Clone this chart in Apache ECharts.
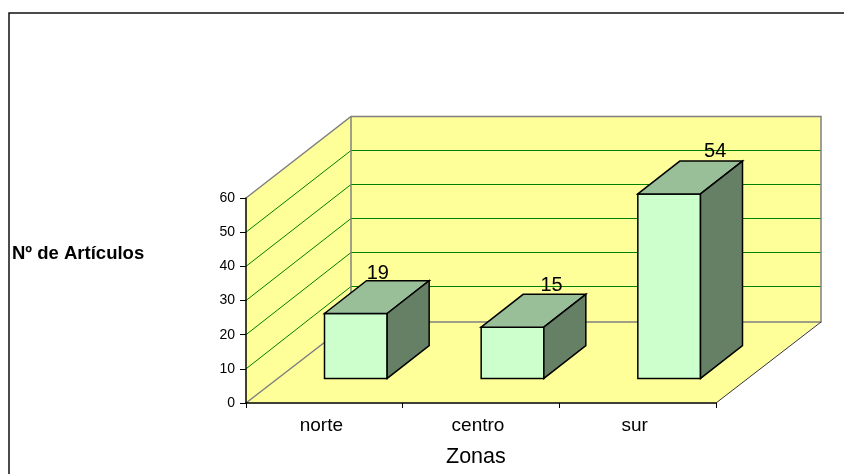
<!DOCTYPE html>
<html>
<head>
<meta charset="utf-8">
<style>
html, body { margin: 0; padding: 0; background: #fff; }
#chart { width: 844px; height: 474px; }
</style>
<script src="https://cdn.jsdelivr.net/npm/echarts@6/dist/echarts.min.js"></script>
</head>
<body>
<div id="chart"></div>
<script>
//datos del grafico
var zonas = ['norte', 'centro', 'sur'];
var articulos = [19, 15, 54];
var yTicks = [0, 10, 20, 30, 40, 50, 60];

//profundidad de la caja 3D en pixeles
var depthX = 105;
var depthY = -82;
//la barra ocupa de 0.3 a 0.7 del fondo y 0.4 del ancho de la categoria
var barFront = 0.3;
var barBack = 0.7;
var barWidth = 0.4;
//ajuste manual de las etiquetas, cada una va en un sitio distinto
var labelShift = [[-20, 3], [-3, 1], [4, 0]];

var font = '"Liberation Sans", Arial, sans-serif';

var chart = echarts.init(document.getElementById('chart'), null, { renderer: 'canvas' });

//linea nitida sobre el pixel
var crisp = function(v) {
	return Math.floor(v) + 0.5;
};

var renderWalls = function(params, api) {
	var cs = params.coordSys;
	var x0 = cs.x, x1 = cs.x + cs.width, yb = cs.y + cs.height, yt = cs.y;
	var bx = depthX, by = depthY;
	var grey = { stroke: '#808080', lineWidth: 1.5, fill: null };
	var children = [
		// pared izquierda, fondo y suelo
		{ type: 'polygon', shape: { points: [[x0, yb], [x0, yt], [x0 + bx, yt + by], [x0 + bx, yb + by]] }, style: { fill: '#FFFF99' } },
		{ type: 'polygon', shape: { points: [[x0 + bx, yt + by], [x1 + bx, yt + by], [x1 + bx, yb + by], [x0 + bx, yb + by]] }, style: { fill: '#FFFF99' } },
		{ type: 'polygon', shape: { points: [[x0, yb], [x0 + bx, yb + by], [x1 + bx, yb + by], [x1, yb]] }, style: { fill: '#FFFF99' } }
	];
	yTicks.forEach(function(t) {
		if(t == 0 || t == yTicks[yTicks.length - 1]) return;
		var y = api.coord([0, t])[1];
		var yBack = crisp(y + by);
		children.push({ type: 'polyline', shape: { points: [[x0, y], [x0 + bx, yBack], [x1 + bx, yBack]] }, style: { stroke: '#008000', lineWidth: 1, fill: null } });
	});
	var topBack = crisp(yt + by);
	var floorBack = crisp(yb + by) + 0.5;
	children.push({ type: 'polyline', shape: { points: [[x0, yt], [x0 + bx, topBack], [x1 + bx, topBack], [x1 + bx, floorBack], [x0 + bx, floorBack], [x0, yb]] }, style: grey });
	children.push({ type: 'line', shape: { x1: x0 + bx, y1: topBack, x2: x0 + bx, y2: floorBack }, style: grey });
	children.push({ type: 'line', shape: { x1: x1 + bx, y1: floorBack, x2: x1, y2: yb }, style: { stroke: '#333333', lineWidth: 1 } });
	return { type: 'group', children: children };
};

var renderBar = function(params, api) {
	var i = api.value(0);
	var v = api.value(1);
	var top = api.coord([i, v]);
	var base = api.coord([i, 0]);
	var w = api.size([1, 0])[0] * barWidth;
	var fx = top[0] - w / 2 + depthX * barFront;
	var fyOff = depthY * barFront;
	var dx = depthX * (barBack - barFront);
	var dy = depthY * (barBack - barFront);
	var t = top[1] + fyOff;
	var b = base[1] + fyOff;
	var line = { stroke: '#000', lineWidth: 1.5, lineJoin: 'miter' };
	var shift = labelShift[i];
	return {
		type: 'group',
		children: [
			{ type: 'polygon', shape: { points: [[fx, t], [fx + w, t], [fx + w, b], [fx, b]] }, style: Object.assign({ fill: '#CCFFCC' }, line) },
			{ type: 'polygon', shape: { points: [[fx, t], [fx + dx, t + dy], [fx + w + dx, t + dy], [fx + w, t]] }, style: Object.assign({ fill: '#99BF99' }, line) },
			{ type: 'polygon', shape: { points: [[fx + w, t], [fx + w + dx, t + dy], [fx + w + dx, b + dy], [fx + w, b]] }, style: Object.assign({ fill: '#668066' }, line) },
			{ type: 'text', style: {
				text: String(v),
				x: fx + w / 2 + dx + shift[0],
				y: t + dy + shift[1],
				align: 'center',
				verticalAlign: 'bottom',
				fill: '#000',
				font: '20px ' + font
			} }
		]
	};
};

var option = {
	animation: false,
	backgroundColor: '#fff',
	grid: { left: 246, top: 198, width: 470, height: 205, containLabel: false },
	xAxis: {
		type: 'category',
		data: zonas,
		z: 5,
		axisLine: { lineStyle: { color: '#000', width: 1.5 } },
		axisTick: { show: true, length: 5, alignWithLabel: false, lineStyle: { color: '#000' } },
		axisLabel: { color: '#000', fontFamily: font, fontSize: 19, margin: 13, interval: 0, padding: [0, 6, 0, 0] },
		splitLine: { show: false }
	},
	yAxis: {
		type: 'value',
		min: 0,
		max: 60,
		interval: 10,
		z: 5,
		axisLine: { show: true, lineStyle: { color: '#000', width: 1.5 } },
		axisTick: { show: true, length: 6, lineStyle: { color: '#000' } },
		axisLabel: { color: '#000', fontFamily: font, fontSize: 14, margin: 11 },
		splitLine: { show: false }
	},
	graphic: [
		{ type: 'rect', shape: { x: 9, y: 13, width: 900, height: 600 }, style: { fill: null, stroke: '#111', lineWidth: 1.5 }, z: 10, silent: true },
		{ type: 'text', left: 12, top: 244, style: { text: 'Nº de Artículos', fill: '#000', font: 'bold 18.5px ' + font } },
		{ type: 'text', left: 446, top: 446, style: { text: 'Zonas', fill: '#000', font: '21.5px ' + font } }
	],
	series: [{
		type: 'custom',
		name: 'paredes',
		data: [[0, 0]],
		renderItem: renderWalls,
		silent: true,
		z: 1
	}, {
		type: 'custom',
		name: 'Nº de Artículos',
		data: articulos.map(function(v, i) { return [i, v]; }),
		renderItem: renderBar,
		encode: { x: 0, y: 1 },
		z: 2
	}]
};
chart.setOption(option);
</script>
</body>
</html>
